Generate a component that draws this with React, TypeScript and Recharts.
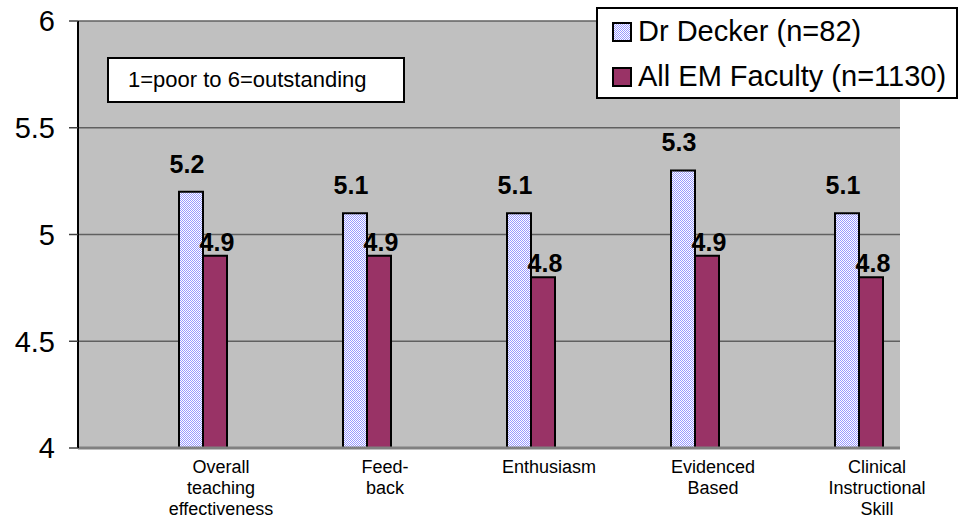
import React from 'react';
import {
  BarChart,
  Bar,
  XAxis,
  YAxis,
  CartesianGrid,
  Legend,
  LabelList,
} from 'recharts';

const categories = [
  ['Overall', 'teaching', 'effectiveness'],
  ['Feed-', 'back'],
  ['Enthusiasm'],
  ['Evidenced', 'Based'],
  ['Clinical', 'Instructional', 'Skill'],
];
const deckerScores = [5.2, 5.1, 5.1, 5.3, 5.1];
const facultyScores = [4.9, 4.9, 4.8, 4.9, 4.8];
const yTicks = [4, 4.5, 5, 5.5, 6];
const seriesNames = ['Dr Decker (n=82)', 'All EM Faculty (n=1130)'];
const noteText = '1=poor to 6=outstanding';

const FONT = '"Liberation Sans", Arial, sans-serif';
const PLUM = '#993366';

const data = categories.map((lines, i) => ({
  name: lines.join('\n'),
  decker: deckerScores[i],
  faculty: facultyScores[i],
}));

// multi-line category labels, nudged a bit right like the original
const CategoryTick = (props: any) => {
  const { x, y, payload } = props;
  const lines = String(payload.value).split('\n');
  return (
    <text x={x + 18} y={y} textAnchor="middle" fontSize={18} fill="#000" fontFamily={FONT}>
      {lines.map((ln, i) => (
        <tspan key={i} x={x + 18} dy={i === 0 ? 25 : 21}>
          {ln}
        </tspan>
      ))}
    </text>
  );
};

const valueLabel = (dx: number, dy: number) => (props: any) => {
  const { x, y, width, value } = props;
  return (
    <text
      x={Number(x) + Number(width) / 2 + dx}
      y={Number(y) - dy}
      textAnchor="middle"
      fontSize={25}
      fontWeight="bold"
      fill="#000"
      fontFamily={FONT}
    >
      {value}
    </text>
  );
};

const LegendBox = (props: any) => {
  const items = [...(props.payload || [])].sort(
    (a: any, b: any) => seriesNames.indexOf(a.value) - seriesNames.indexOf(b.value)
  );
  return (
    <div style={{ paddingLeft: 14, paddingTop: 0 }}>
      {items.map((entry: any, i: number) => (
        <div key={i} style={{ display: 'flex', alignItems: 'center', height: 45 }}>
          <svg width={20} height={20} style={{ marginRight: 6 }}>
            <rect
              x={1}
              y={1}
              width={18}
              height={18}
              fill={entry.value === seriesNames[0] ? 'url(#deckerDots)' : PLUM}
              stroke="#000"
              strokeWidth={2}
            />
          </svg>
          <span style={{ fontSize: 29, color: '#000', whiteSpace: 'nowrap' }}>{entry.value}</span>
        </div>
      ))}
    </div>
  );
};

export default function App() {
  return (
    <div
      style={{
        position: 'absolute',
        left: 0,
        top: 0,
        width: 960,
        height: 523,
        background: '#fff',
        fontFamily: FONT,
      }}
    >
      <BarChart
        width={960}
        height={523}
        data={data}
        margin={{ top: 21, right: 60, left: 0, bottom: 45 }}
        barGap={0}
      >
        <defs>
          <pattern id="deckerDots" width={2} height={2} patternUnits="userSpaceOnUse">
            <rect width={2} height={2} fill="#ffffff" />
            <rect width={1} height={1} fill="#9999ff" />
            <rect x={1} y={1} width={1} height={1} fill="#9999ff" />
          </pattern>
        </defs>
        <CartesianGrid vertical={false} fill="#c0c0c0" stroke="#606060" strokeWidth={1.5} />
        <XAxis
          dataKey="name"
          height={30}
          interval={0}
          tickLine={false}
          tickSize={0}
          tickMargin={0}
          padding={{ left: 43, right: -41 }}
          axisLine={{ stroke: '#808080', strokeWidth: 3 }}
          tick={<CategoryTick />}
        />
        <YAxis
          width={78}
          domain={[4, 6]}
          ticks={yTicks}
          interval={0}
          tickSize={9}
          tickMargin={14}
          tickFormatter={(v: number) => String(v)}
          axisLine={{ stroke: '#000', strokeWidth: 2 }}
          tickLine={{ stroke: '#404040', strokeWidth: 1.5 }}
          tick={{ fontSize: 29, fill: '#000', fontFamily: FONT }}
        />
        <YAxis
          yAxisId="right"
          orientation="right"
          width={0}
          domain={[4, 6]}
          tick={false}
          tickLine={false}
          axisLine={{ stroke: '#808080', strokeWidth: 2 }}
        />
        <Legend
          layout="horizontal"
          verticalAlign="middle"
          align="center"
          content={<LegendBox />}
          wrapperStyle={{
            position: 'absolute',
            left: 596,
            top: 7,
            width: 362,
            height: 92,
            background: '#fff',
            border: '2px solid #000',
            boxSizing: 'border-box',
            fontFamily: FONT,
          }}
        />
        <Bar
          dataKey="decker"
          name={seriesNames[0]}
          fill="url(#deckerDots)"
          stroke="#000"
          strokeWidth={2}
          barSize={24}
          isAnimationActive={false}
        >
          <LabelList dataKey="decker" content={valueLabel(-4, 19)} />
        </Bar>
        <Bar
          dataKey="faculty"
          name={seriesNames[1]}
          fill={PLUM}
          stroke="#000"
          strokeWidth={2}
          barSize={24}
          isAnimationActive={false}
        >
          <LabelList dataKey="faculty" content={valueLabel(2, 5)} />
        </Bar>
      </BarChart>
      <div
        style={{
          position: 'absolute',
          left: 107,
          top: 57,
          width: 298,
          height: 46,
          boxSizing: 'border-box',
          border: '2px solid #000',
          background: '#fff',
          display: 'flex',
          alignItems: 'center',
          paddingLeft: 19,
          fontSize: 22,
          color: '#000',
          whiteSpace: 'nowrap',
        }}
      >
        {noteText}
      </div>
    </div>
  );
}
